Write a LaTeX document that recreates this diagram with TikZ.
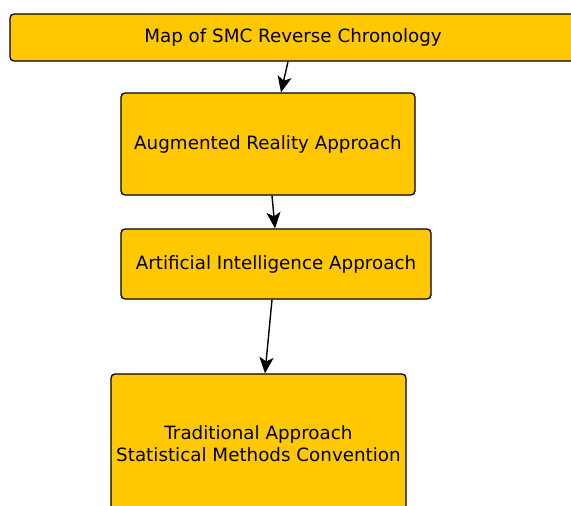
\documentclass[tikz,border=0pt]{standalone}
\usepackage{fontspec}
\setmainfont{DejaVu Sans}
\usetikzlibrary{arrows.meta}
\definecolor{boxfill}{HTML}{FFC800}
\begin{document}
\begin{tikzpicture}[x=1pt,y=-1pt,
  stagebox/.style={draw=black, line width=1.3pt, fill=boxfill, rounded corners=4pt,
    inner sep=0pt, align=center, font=\fontsize{18.3}{22}\selectfont},
  link/.style={line width=1.4pt, -{Stealth[length=16pt,width=14pt,inset=4pt]}}]
  \useasboundingbox (0,0) rectangle (571,506);
  \begin{scope}
    \clip (0,0) rectangle (571,506);
    \node[stagebox, minimum width=566pt, minimum height=47pt] (map) at (293,37.5) {\raisebox{-1pt}{Map of SMC Reverse Chronology}};
    \node[stagebox, minimum width=294pt, minimum height=102pt] (ar) at (268,144) {\raisebox{-1pt}{Augmented Reality Approach}};
    \node[stagebox, minimum width=310pt, minimum height=70pt] (ai) at (276,264) {\raisebox{-1pt}{Artificial Intelligence Approach}};
    \node[stagebox, minimum width=295pt, minimum height=140pt] (trad) at (258.5,444) {Traditional Approach\\Statistical Methods Convention};
  \end{scope}
  \draw[link] ([xshift=-5pt]map.south) -- ([xshift=13pt]ar.north);
  \draw[link] ([xshift=4pt]ar.south) -- ([xshift=-1pt]ai.north);
  \draw[link] ([xshift=-4pt]ai.south) -- ([xshift=6.5pt]trad.north);
\end{tikzpicture}
\end{document}
